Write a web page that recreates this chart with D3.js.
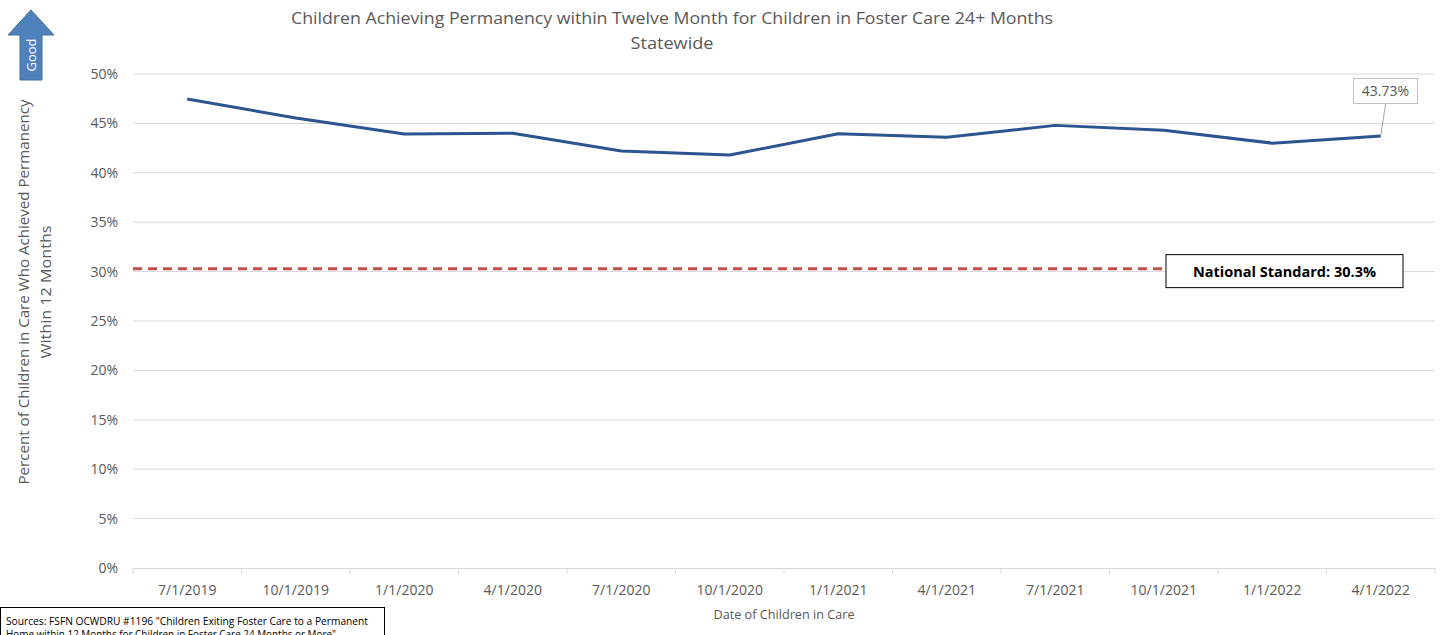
<!DOCTYPE html>
<html>
<head>
<meta charset="utf-8">
<script src="https://cdn.jsdelivr.net/npm/d3@7"></script>
<style>
  html, body { margin: 0; padding: 0; background: #fff; }
  svg { display: block; font-family: "Open Sans", "Noto Sans", sans-serif; }
</style>
</head>
<body>
<svg id="chart" width="1442" height="635"></svg>
<script>
// Reporting dates (category axis)
const dates = ["7/1/2019", "10/1/2019", "1/1/2020", "4/1/2020", "7/1/2020", "10/1/2020",
               "1/1/2021", "4/1/2021", "7/1/2021", "10/1/2021", "1/1/2022", "4/1/2022"];
// Percent of children achieving permanency within 12 months
const permanencyPct = [47.47, 45.55, 43.93, 44.0, 42.2, 41.8, 43.95, 43.6, 44.8, 44.3, 43.0, 43.73];
// National standard reference value
const nationalStandard = 30.3;
// Y-axis ticks
const yTicks = [0, 5, 10, 15, 20, 25, 30, 35, 40, 45, 50];

const svg = d3.select("#chart");
const plotLeft = 133, plotRight = 1435, plotTop = 74, plotBottom = 568;
const textColor = "#595959";

const x = d3.scaleBand().domain(dates).range([plotLeft, plotRight]);
const y = d3.scaleLinear().domain([0, 50]).range([plotBottom, plotTop]);

// Gridlines
svg.append("g").selectAll("line").data(yTicks.filter(d => d > 0)).join("line")
  .attr("x1", plotLeft).attr("x2", plotRight)
  .attr("y1", d => y(d)).attr("y2", d => y(d))
  .attr("stroke", "#d9d9d9").attr("stroke-width", 1);

// Y axis labels
const yAxis = svg.append("g").attr("transform", `translate(${plotLeft},0)`)
  .call(d3.axisLeft(y).tickValues(yTicks).tickFormat(d => d + "%").tickSize(0).tickPadding(15));
yAxis.select(".domain").remove();
yAxis.selectAll("text").attr("fill", textColor).attr("font-size", 14)
  .attr("font-family", "Open Sans, sans-serif");

// X axis
const xAxis = svg.append("g").attr("transform", `translate(0,${plotBottom})`)
  .call(d3.axisBottom(x).tickSize(0).tickPadding(17));
xAxis.select(".domain").attr("stroke", "#d9d9d9");
xAxis.selectAll("text").attr("fill", textColor).attr("font-size", 14)
  .attr("font-family", "Open Sans, sans-serif");
// Category boundary tick marks
const bounds = dates.map(d => x(d)).concat([x(dates[dates.length - 1]) + x.bandwidth()]);
svg.append("g").selectAll("line").data(bounds).join("line")
  .attr("x1", d => d).attr("x2", d => d)
  .attr("y1", plotBottom).attr("y2", plotBottom + 6)
  .attr("stroke", "#d9d9d9");

// National standard dashed line, ending at its label box
const boxX = 1166, boxW = 237, boxH = 33;
const nsY = y(nationalStandard);
svg.append("line")
  .attr("x1", plotLeft).attr("x2", boxX)
  .attr("y1", nsY).attr("y2", nsY)
  .attr("stroke", "#c0504d").attr("stroke-width", 3)
  .attr("stroke-dasharray", "9,6");
svg.append("rect")
  .attr("x", boxX).attr("y", nsY - 14).attr("width", boxW).attr("height", boxH)
  .attr("fill", "#fff").attr("stroke", "#000").attr("stroke-width", 1);
svg.append("text")
  .attr("x", boxX + boxW / 2).attr("y", nsY + 8)
  .attr("text-anchor", "middle").attr("font-size", 14).attr("font-weight", "bold")
  .attr("fill", "#000")
  .attr("textLength", 183).attr("lengthAdjust", "spacingAndGlyphs")
  .text("National Standard: " + nationalStandard + "%");

// Series line
const line = d3.line()
  .x((d, i) => x(dates[i]) + x.bandwidth() / 2)
  .y(d => y(d));
svg.append("path").datum(permanencyPct)
  .attr("d", line)
  .attr("fill", "none").attr("stroke", "#2c5491").attr("stroke-width", 3)
  .attr("stroke-linejoin", "round");

// Data label on the last point
const lastI = permanencyPct.length - 1;
const lx = x(dates[lastI]) + x.bandwidth() / 2, ly = y(permanencyPct[lastI]);
svg.append("line")
  .attr("x1", lx).attr("y1", ly).attr("x2", lx + 5).attr("y2", 103)
  .attr("stroke", "#a6a6a6").attr("stroke-width", 1);
svg.append("rect")
  .attr("x", 1353.5).attr("y", 78.5).attr("width", 64).attr("height", 25)
  .attr("fill", "#fff").attr("stroke", "#bfbfbf");
svg.append("text")
  .attr("x", 1385.5).attr("y", 96)
  .attr("text-anchor", "middle").attr("font-size", 14).attr("fill", textColor)
  .text(permanencyPct[lastI].toFixed(2) + "%");

// Title
svg.append("text")
  .attr("x", 672).attr("y", 24).attr("text-anchor", "middle")
  .attr("font-size", 16).attr("fill", textColor)
  .attr("textLength", 762).attr("lengthAdjust", "spacingAndGlyphs")
  .text("Children Achieving Permanency within Twelve Month for Children in Foster Care 24+ Months");
svg.append("text")
  .attr("x", 672).attr("y", 49).attr("text-anchor", "middle")
  .attr("font-size", 16).attr("fill", textColor)
  .attr("textLength", 83).attr("lengthAdjust", "spacingAndGlyphs")
  .text("Statewide");

// Axis titles
svg.append("text")
  .attr("x", 784).attr("y", 619).attr("text-anchor", "middle")
  .attr("font-size", 12).attr("fill", textColor)
  .attr("textLength", 141).attr("lengthAdjust", "spacingAndGlyphs")
  .text("Date of Children in Care");
const yTitle = svg.append("text")
  .attr("transform", "translate(0,292) rotate(-90)")
  .attr("text-anchor", "middle").attr("font-size", 14).attr("fill", textColor);
yTitle.append("tspan").attr("x", 0).attr("y", 29)
  .attr("textLength", 385).attr("lengthAdjust", "spacingAndGlyphs")
  .text("Percent of Children in Care Who Achieved Permanency");
yTitle.append("tspan").attr("x", 0).attr("y", 51)
  .attr("textLength", 133).attr("lengthAdjust", "spacingAndGlyphs")
  .text("Within 12 Months");

// "Good" direction arrow
svg.append("path")
  .attr("d", "M31,10 L54,35 L42,35 L42,80 L20,80 L20,35 L8,35 Z")
  .attr("fill", "#4f81bd").attr("stroke", "#41719c").attr("stroke-width", 1);
svg.append("text")
  .attr("transform", "translate(36,55) rotate(-90)")
  .attr("text-anchor", "middle").attr("font-size", 13).attr("fill", "#fff")
  .text("Good");

// Sources note
svg.append("rect")
  .attr("x", 0.5).attr("y", 607.5).attr("width", 384).attr("height", 40)
  .attr("fill", "#fff").attr("stroke", "#000");
svg.append("text")
  .attr("x", 6).attr("y", 625).attr("font-size", 10).attr("fill", "#000")
  .attr("textLength", 362).attr("lengthAdjust", "spacingAndGlyphs")
  .text("Sources: FSFN OCWDRU #1196 \"Children Exiting Foster Care to a Permanent");
svg.append("text")
  .attr("x", 6).attr("y", 638).attr("font-size", 10).attr("fill", "#000")
  .attr("textLength", 330).attr("lengthAdjust", "spacingAndGlyphs")
  .text("Home within 12 Months for Children in Foster Care 24 Months or More\"");
</script>
</body>
</html>
